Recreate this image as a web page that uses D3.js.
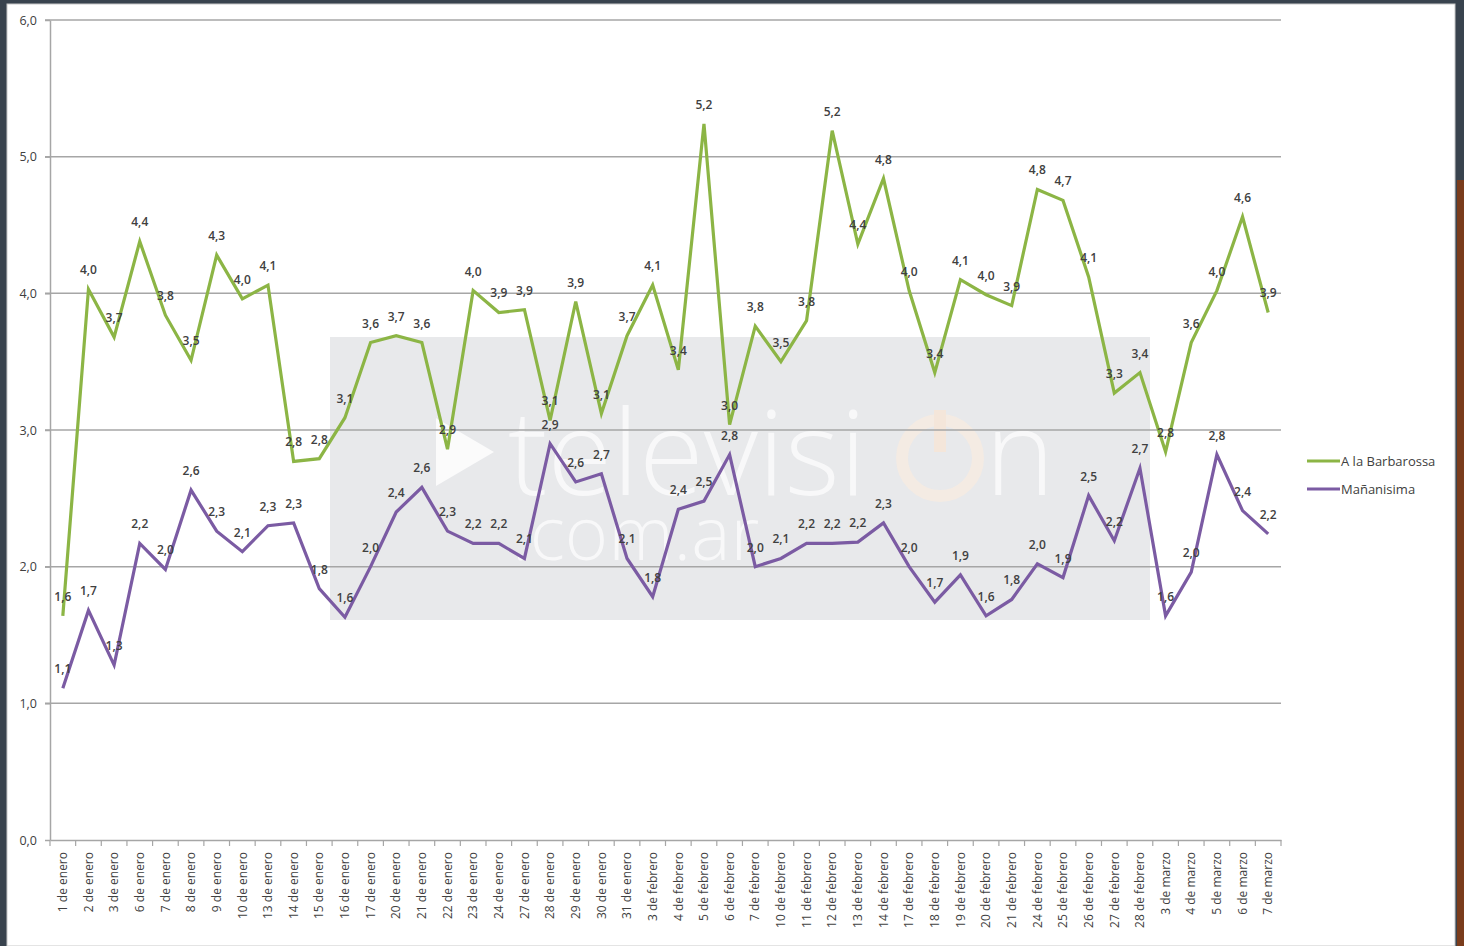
<!DOCTYPE html>
<html>
<head>
<meta charset="utf-8">
<script src="https://cdn.jsdelivr.net/npm/d3@7"></script>
<style>
  html, body { margin: 0; padding: 0; background: #39434e; }
  svg { display: block; }
</style>
</head>
<body>
<svg id="chart" width="1464" height="946"></svg>
<script>
const categories = [
  "1 de enero","2 de enero","3 de enero","6 de enero","7 de enero","8 de enero","9 de enero","10 de enero",
  "13 de enero","14 de enero","15 de enero","16 de enero","17 de enero","20 de enero","21 de enero","22 de enero",
  "23 de enero","24 de enero","27 de enero","28 de enero","29 de enero","30 de enero","31 de enero",
  "3 de febrero","4 de febrero","5 de febrero","6 de febrero","7 de febrero","10 de febrero","11 de febrero",
  "12 de febrero","13 de febrero","14 de febrero","17 de febrero","18 de febrero","19 de febrero","20 de febrero",
  "21 de febrero","24 de febrero","25 de febrero","26 de febrero","27 de febrero","28 de febrero",
  "3 de marzo","4 de marzo","5 de marzo","6 de marzo","7 de marzo"
];
const seriesNames = ["A la Barbarossa", "Mañanisima"];
const barbarossa = [
  1.64, 4.03, 3.68, 4.38, 3.84, 3.51, 4.28, 3.96, 4.06, 2.77, 2.79, 3.09, 3.64, 3.69, 3.64, 2.86,
  4.02, 3.86, 3.88, 3.07, 3.94, 3.12, 3.69, 4.06, 3.44, 5.24, 3.04, 3.76, 3.50, 3.80, 5.19, 4.36,
  4.84, 4.02, 3.42, 4.10, 3.99, 3.91, 4.76, 4.68, 4.12, 3.27, 3.42, 2.84, 3.64, 4.02, 4.56, 3.86
];
const mananisima = [
  1.11, 1.68, 1.28, 2.17, 1.98, 2.56, 2.26, 2.11, 2.30, 2.32, 1.84, 1.63, 2.00, 2.40, 2.58, 2.26,
  2.17, 2.17, 2.06, 2.90, 2.62, 2.68, 2.06, 1.78, 2.42, 2.48, 2.82, 2.00, 2.06, 2.17, 2.17, 2.18,
  2.32, 2.00, 1.74, 1.94, 1.64, 1.76, 2.02, 1.92, 2.52, 2.19, 2.72, 1.64, 1.96, 2.82, 2.41, 2.24
];
const yTicks = [0, 1, 2, 3, 4, 5, 6];
const colors = ["#8cb545", "#7b5ba3"];

const svg = d3.select("#chart");
const fmt = v => v.toFixed(1).replace(".", ",");
const FONT = "'Open Sans', 'Liberation Sans', sans-serif";

// page frame
svg.append("rect").attr("x", 0).attr("y", 0).attr("width", 1464).attr("height", 946).attr("fill", "#39434e");
svg.append("rect").attr("x", 1457).attr("y", 180).attr("width", 7).attr("height", 766).attr("fill", "#7a3c1c");
svg.append("rect").attr("x", 7).attr("y", 4).attr("width", 1448).attr("height", 942)
  .attr("fill", "#ffffff").attr("stroke", "#c8c8c8").attr("stroke-width", 1);

// watermark
const wm = svg.append("g");
wm.append("rect").attr("x", 330).attr("y", 337).attr("width", 820).attr("height", 283).attr("fill", "#e8e9eb");
wm.append("path").attr("d", "M436,418 L494,452 L436,486 Z").attr("fill", "#ffffff").attr("opacity", 0.8);
wm.append("text").attr("x", 508).attr("y", 495).text("televisi")
  .attr("font-family", FONT).attr("font-weight", 300).attr("font-size", 118)
  .attr("fill", "#ffffff").attr("opacity", 0.7);
wm.append("circle").attr("cx", 940).attr("cy", 458).attr("r", 38).attr("fill", "none")
  .attr("stroke", "#f5ebe2").attr("stroke-width", 12).attr("opacity", 0.9);
wm.append("line").attr("x1", 940).attr("x2", 940).attr("y1", 410).attr("y2", 452)
  .attr("stroke", "#f4e6da").attr("stroke-width", 12);
wm.append("text").attr("x", 985).attr("y", 495).text("n")
  .attr("font-family", FONT).attr("font-weight", 300).attr("font-size", 118)
  .attr("fill", "#ffffff").attr("opacity", 0.7);
wm.append("text").attr("x", 512).attr("y", 560).text(".com.ar")
  .attr("font-family", FONT).attr("font-weight", 300).attr("font-size", 74)
  .attr("fill", "#ffffff").attr("opacity", 0.7);

// scales
const x = d3.scaleBand().domain(categories).range([50, 1281]);
const y = d3.scaleLinear().domain([0, 6]).range([840, 20]);
const cx = d => x(d) + x.bandwidth() / 2;

// gridlines
svg.append("g").selectAll("line").data(yTicks.filter(t => t > 0)).join("line")
  .attr("x1", 45).attr("x2", 1281).attr("y1", d => y(d)).attr("y2", d => y(d))
  .attr("stroke", "#a6a6a6").attr("stroke-width", 1.5);

// y axis
const yAxis = svg.append("g").attr("transform", "translate(50,0)")
  .call(d3.axisLeft(y).tickValues(yTicks).tickFormat(fmt).tickSize(5).tickSizeOuter(0).tickPadding(8));
yAxis.select(".domain").attr("stroke", "#a6a6a6").attr("stroke-width", 1.5);
yAxis.selectAll(".tick line").attr("stroke", "#a6a6a6").attr("stroke-width", 1.5);
yAxis.selectAll("text").attr("font-family", FONT).attr("font-size", 12.5).attr("fill", "#404040");

// x axis
const xAxis = svg.append("g").attr("transform", "translate(0,840)")
  .call(d3.axisBottom(x).tickSize(0).tickSizeOuter(0));
xAxis.select(".domain").attr("stroke", "#a6a6a6").attr("stroke-width", 1.5);
xAxis.selectAll("text")
  .attr("transform", "rotate(-90)")
  .attr("x", -12).attr("y", 0).attr("dy", "0.35em")
  .style("text-anchor", "end")
  .attr("font-family", FONT).attr("font-size", 12).attr("fill", "#404040");
const bounds = categories.map(c => x(c)).concat([x.range()[1]]);
svg.append("g").selectAll("line").data(bounds).join("line")
  .attr("x1", d => d).attr("x2", d => d).attr("y1", 840).attr("y2", 846)
  .attr("stroke", "#a6a6a6").attr("stroke-width", 1.2);

// lines
const series = [barbarossa, mananisima];
const line = d3.line().x((d, i) => cx(categories[i])).y(d => y(d));
series.forEach((vals, s) => {
  svg.append("path").datum(vals).attr("d", line)
    .attr("fill", "none").attr("stroke", colors[s]).attr("stroke-width", 3.2)
    .attr("stroke-linejoin", "miter");
});

// data labels
series.forEach((vals, s) => {
  svg.append("g").selectAll("text").data(vals).join("text")
    .attr("x", (d, i) => cx(categories[i]))
    .attr("y", d => y(d) - 15)
    .attr("text-anchor", "middle")
    .attr("font-family", FONT).attr("font-size", 12).attr("font-weight", 600)
    .attr("fill", "#404040")
    .text(fmt);
});

// legend
const legend = svg.append("g");
seriesNames.forEach((name, s) => {
  const ly = 461 + s * 28;
  legend.append("line").attr("x1", 1307).attr("x2", 1340).attr("y1", ly).attr("y2", ly)
    .attr("stroke", colors[s]).attr("stroke-width", 3.2);
  legend.append("text").attr("x", 1341).attr("y", ly).attr("dy", "0.35em")
    .attr("font-family", FONT).attr("font-size", 13).attr("fill", "#404040").text(name);
});
</script>
</body>
</html>
